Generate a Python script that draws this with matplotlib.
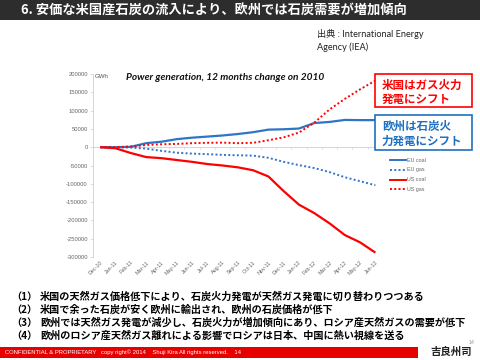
import matplotlib
matplotlib.use("Agg")
import matplotlib.pyplot as plt
from matplotlib.patches import Rectangle
import numpy as np

plt.rcParams['font.family'] = ['Noto Sans CJK JP', 'DejaVu Sans']

months = ["Dec-10", "Jan-11", "Feb-11", "Mar-11", "Apr-11", "May-11", "Jun-11",
          "Jul-11", "Aug-11", "Sep-11", "Oct-11", "Nov-11", "Dec-11", "Jan-12",
          "Feb-12", "Mar-12", "Apr-12", "May-12", "Jun-12"]
eu_coal = [0, 0, 1000, 11000, 15000, 22000, 26000, 29000, 32000, 36000, 41000,
           48000, 49000, 51000, 66000, 69000, 74500, 74000, 74000]
eu_gas = [0, 0, -1000, -4000, -10000, -15000, -17500, -19000, -21000, -22000,
          -23000, -29000, -40000, -49000, -57000, -68000, -82000, -93000, -104000]
us_coal = [0, -3000, -16000, -27000, -30000, -35000, -40000, -46000, -50000,
           -55000, -63000, -80000, -120000, -157000, -180000, -208000, -240000,
           -260000, -288000]
us_gas = [0, 0, 2000, 6000, 8000, 9000, 11000, 12000, 12500, 11000, 12000,
          19000, 27000, 40000, 67000, 103000, 132000, 158000, 182000]
yticks = [200000, 150000, 100000, 50000, 0, -50000, -100000, -150000,
          -200000, -250000, -300000]

W, H = 480, 360
fig = plt.figure(figsize=(4.8, 3.6), dpi=100)

def fx(x):
    return x / W

def fy(y):
    return 1 - y / H

# title bar
fig.patches.append(Rectangle((0, fy(20)), 1, 20 / H, transform=fig.transFigure,
                             facecolor="#2d2d2d", edgecolor="none", zorder=0))
fig.text(fx(21), fy(11), "6. 安価な米国産石炭の流入により、欧州では石炭需要が増加傾向",
         color="white", fontsize=9.5, fontweight="bold", va="center", ha="left")

# source
fig.text(fx(317), fy(34), "出典 : International Energy", fontsize=6.6,
         family=['Lato', 'Noto Sans CJK JP'], va="center", ha="left", color="#222222")
fig.text(fx(317), fy(47), "Agency (IEA)", fontsize=6.6,
         family=['Lato', 'Noto Sans CJK JP'], va="center", ha="left", color="#222222")

# chart axes
x0, x1, ytop, ybot = 92.7, 383.0, 74.0, 257.0
ax = fig.add_axes([fx(x0), fy(ybot), (x1 - x0) / W, (ybot - ytop) / H])
x = np.arange(len(months))
ax.plot(x, eu_coal, color="#2e75c6", lw=1.6, solid_capstyle="butt", zorder=3)
ax.plot(x, eu_gas, color="#2e75c6", lw=1.4, ls=(0, (1, 1.2)), zorder=3)
ax.plot(x, us_coal, color="#ff0000", lw=1.6, solid_capstyle="butt", zorder=3)
ax.plot(x, us_gas, color="#ff0000", lw=1.4, ls=(0, (1, 1.2)), zorder=3)
ax.set_xlim(-0.5, len(months) - 0.5)
ax.set_ylim(-300000, 200000)
ax.set_yticks(yticks)
ax.set_yticklabels([str(v) for v in yticks], family="Liberation Sans",
                   fontsize=4.2, color="#666666")
ax.set_xticks(x)
ax.set_xticklabels(months, rotation=45, ha="right", rotation_mode="anchor",
                   family="Liberation Sans", fontsize=3.9, color="#666666")
ax.tick_params(axis="x", length=0, pad=2)
ax.tick_params(axis="y", length=2, width=0.5, color="#c8d0d8", pad=1.5)
for s in ["top", "right", "bottom"]:
    ax.spines[s].set_visible(False)
ax.spines["left"].set_color("#c8d0d8")
ax.spines["left"].set_linewidth(0.6)
ax.axhline(0, color="#c8d0d8", lw=0.6, zorder=1)
ax.vlines(np.arange(len(months) + 1) - 0.5, -5000, 0, color="#c8d0d8", lw=0.5, zorder=1)
ax.set_facecolor("none")

fig.text(fx(95), fy(77), "GWh", fontsize=4.4, family="Liberation Sans",
         color="#555555", va="center", ha="left")
fig.text(fx(126), fy(77), "Power generation, 12 months change on 2010",
         fontsize=7.3, family="Lato", fontweight="bold", style="italic",
         color="#111111", va="center", ha="left")

# legend
leg = [("EU coal", "#2e75c6", "-"), ("EU gas", "#2e75c6", (0, (1, 1.2))),
       ("US coal", "#ff0000", "-"), ("US gas", "#ff0000", (0, (1, 1.2)))]
for i, (lab, col, ls) in enumerate(leg):
    yy = 160 + i * 9.8
    fig.add_artist(plt.Line2D([fx(390), fx(406)], [fy(yy), fy(yy)], color=col,
                              lw=1.4, ls=ls, transform=fig.transFigure))
    fig.text(fx(407), fy(yy), lab, fontsize=3.9, family="Liberation Sans",
             color="#666666", va="center", ha="left")

# callouts
fig.patches.append(Rectangle((fx(375), fy(106.5)), 97 / W, 33 / H,
                             transform=fig.transFigure, facecolor="white",
                             edgecolor="#ff0000", lw=1.2, zorder=4))
fig.text(fx(382), fy(85), "米国はガス火力", color="#ff0000", fontsize=8.3,
         fontweight="bold", va="center", ha="left", zorder=5)
fig.text(fx(382), fy(99.5), "発電にシフト", color="#ff0000", fontsize=8.3,
         fontweight="bold", va="center", ha="left", zorder=5)
fig.patches.append(Rectangle((fx(375), fy(150)), 97 / W, 35 / H,
                             transform=fig.transFigure, facecolor="white",
                             edgecolor="#1f6fc0", lw=1.2, zorder=4))
fig.text(fx(382), fy(126.5), "欧州は石炭火", color="#1f6fc0", fontsize=8.3,
         fontweight="bold", va="center", ha="left", zorder=5)
fig.text(fx(382), fy(141), "力発電にシフト", color="#1f6fc0", fontsize=8.3,
         fontweight="bold", va="center", ha="left", zorder=5)

# bottom notes
notes = ["米国の天然ガス価格低下により、石炭火力発電が天然ガス発電に切り替わりつつある",
         "米国で余った石炭が安く欧州に輸出され、欧州の石炭価格が低下",
         "欧州では天然ガス発電が減少し、石炭火力が増加傾向にあり、ロシア産天然ガスの需要が低下",
         "欧州のロシア産天然ガス離れによる影響でロシアは日本、中国に熱い視線を送る"]
for i, t in enumerate(notes):
    yy = 297 + i * 13
    fig.text(fx(11), fy(yy), f"（{i + 1}）", fontsize=7.3, fontweight="bold",
             color="black", va="center", ha="left")
    fig.text(fx(40), fy(yy), t, fontsize=7.3, fontweight="bold",
             color="black", va="center", ha="left")

# footer
fig.patches.append(Rectangle((0, fy(358)), 418 / W, 11 / H, transform=fig.transFigure,
                             facecolor="#e60000", edgecolor="none", zorder=0))
fig.text(fx(5), fy(352.5),
         "CONFIDENTIAL & PROPRIETARY   copy right© 2014    Shuji Kira All rights reserved.    14",
         fontsize=4.2, family="Liberation Sans", color="white", va="center", ha="left")
fig.text(fx(471), fy(342), "14", fontsize=3.8, family="Liberation Sans",
         color="#999999", va="center", ha="center")
fig.text(fx(451), fy(352), "吉良州司", fontsize=7.5, fontweight="bold",
         color="#222222", va="center", ha="center")

fig.savefig("out.png", dpi=100)
